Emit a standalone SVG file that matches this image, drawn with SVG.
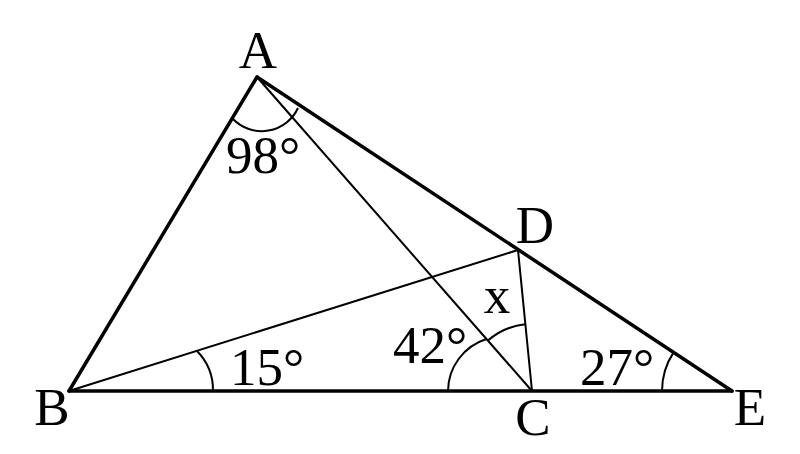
<svg xmlns="http://www.w3.org/2000/svg" width="800" height="454" viewBox="0 0 800 454">
<style>
.thick{stroke:#000;stroke-width:3.5;fill:none;stroke-linecap:round;stroke-linejoin:round}
.thin{stroke:#000;stroke-width:2;fill:none;stroke-linecap:round}
.arc{stroke:#000;stroke-width:2;fill:none}
text{font-family:"Liberation Serif","Times New Roman",serif;font-size:53px;fill:#000}
</style>
<rect width="800" height="454" fill="#fff"/>
<g id="connectors">
<line class="thick" x1="257" y1="77" x2="69" y2="391"/>
<line class="thick" x1="257" y1="77" x2="732" y2="391"/>
<line class="thick" x1="69" y1="391" x2="732" y2="391"/>
<line class="thin" x1="69" y1="391" x2="518" y2="250"/>
<line class="thin" x1="257" y1="77" x2="532" y2="391"/>
<line class="thin" x1="518" y1="250" x2="532" y2="391"/>
</g>
<g id="arcs">
<path class="arc" d="M298,108 A40,40 0 0 1 233,119"/>
<path class="arc" d="M197,351 A56,56 0 0 1 213,391"/>
<path class="arc" d="M448,391 A55,55 0 0 1 486.5,339"/>
<path class="arc" d="M487.9,340.6 A67,67 0 0 1 525.3,324.3"/>
<path class="arc" d="M662,391 A70,70 0 0 1 673.6,352.4"/>
</g>
<g id="A"><text x="258" y="68" text-anchor="middle">A</text></g>
<g id="B"><text x="52" y="425" text-anchor="middle">B</text></g>
<g id="C"><text x="533" y="435" text-anchor="middle">C</text></g>
<g id="D"><text x="535" y="243" text-anchor="middle">D</text></g>
<g id="E"><text x="750" y="425" text-anchor="middle">E</text></g>
<g id="labels">
<text x="226" y="173">98°</text>
<text x="230" y="385">15°</text>
<text x="393" y="363">42°</text>
<text x="497" y="313" text-anchor="middle">x</text>
<text x="580" y="385">27°</text>
</g>
</svg>
